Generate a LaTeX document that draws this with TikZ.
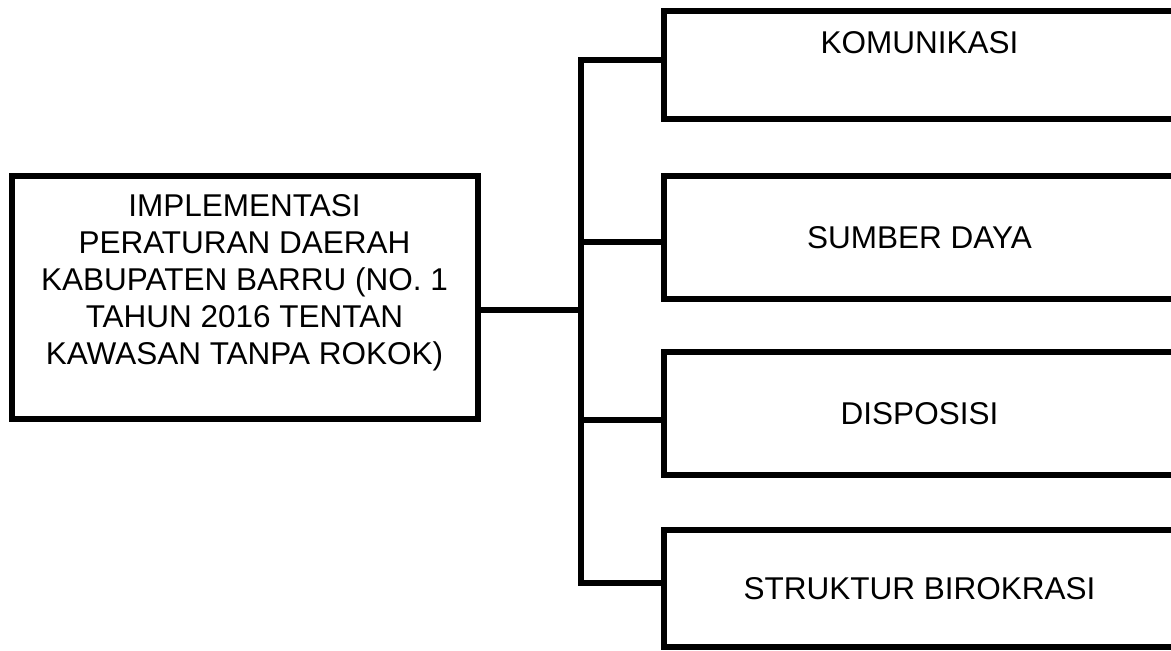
\documentclass[tikz,border=0pt]{standalone}
\usepackage{fontspec}
\setmainfont{Liberation Sans}
\begin{document}
\begin{tikzpicture}[x=1pt,y=-1pt,
  line width=6pt,
  boxnode/.style={draw=black, line width=6pt, rectangle, inner sep=0pt, outer sep=0pt,
    font=\fontsize{31.5}{37}\selectfont, align=center},
  rbox/.style={boxnode, minimum width=511pt, text height=22.5pt, text depth=0pt},
  conn/.style={draw=black, line width=6pt, line join=miter, line cap=butt}]
\useasboundingbox (0,0) rectangle (1171,651);
% main box
\node[boxnode, minimum width=466pt, minimum height=243pt] (main) at (244.5,297.5)
  {IMPLEMENTASI\\PERATURAN DAERAH\\KABUPATEN BARRU (NO. 1\\TAHUN 2016 TENTAN\\KAWASAN TANPA ROKOK)\rule[-35.6pt]{0pt}{0pt}};
% right boxes
\node[rbox, minimum height=108pt, text depth=46.5pt] (kom) at (919.5,65) {KOMUNIKASI};
\node[rbox, minimum height=123pt] (sd) at (919.5,237.5) {SUMBER DAYA};
\node[rbox, minimum height=123pt] (dis) at (919.5,413.5) {DISPOSISI};
\node[rbox, minimum height=117pt] (sb) at (919.5,588.5) {STRUKTUR BIROKRASI};
% trunk coordinates
\coordinate (t1) at (581,60);
\coordinate (t2) at (581,242);
\coordinate (tm) at (581,310);
\coordinate (t3) at (581,420);
\coordinate (t4) at (581,583);
% connectors
\path[conn] (tm -| main.east) -- (tm);
\path[conn] (t1 -| kom.west) -- (t1) -- (t4) -- (t4 -| sb.west);
\path[conn] (t2) -- (t2 -| sd.west);
\path[conn] (t3) -- (t3 -| dis.west);
\end{tikzpicture}
\end{document}
